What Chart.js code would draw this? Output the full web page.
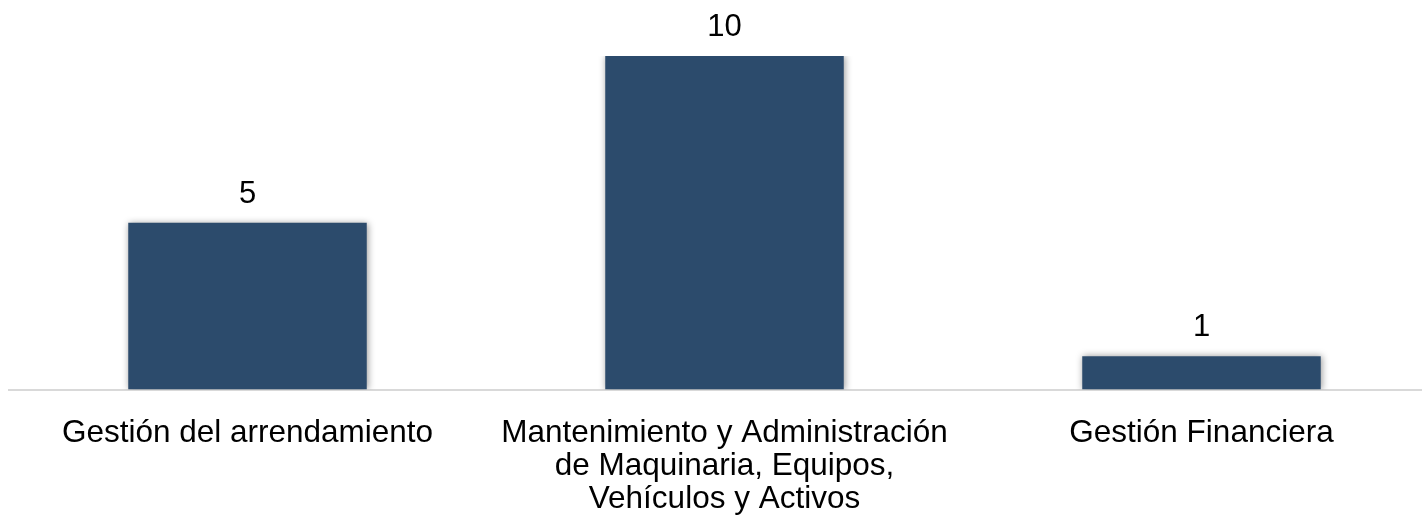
<!DOCTYPE html>
<html>
<head>
<meta charset="utf-8">
<script src="https://cdn.jsdelivr.net/npm/chart.js@4.4.1/dist/chart.umd.min.js"></script>
<style>
    html, body { margin: 0; padding: 0; background: #fff; overflow: hidden; }
    #wrap { width: 1440px; height: 519px; }
</style>
</head>
<body>
<div id="wrap"><canvas id="barCanvas"></canvas></div>
<script>
const categories = [
    'Gestión del arrendamiento',
    ['Mantenimiento y Administración', 'de Maquinaria, Equipos,', 'Vehículos y Activos'],
    'Gestión Financiera'
];
const values = [5, 10, 1];

const FONT = '"Liberation Sans", Arial, sans-serif';

// soft shadow round the bars, like the original
const barShadow = {
    id: 'barShadow',
    beforeDatasetDraw(chart) {
        const ctx = chart.ctx;
        ctx.save();
        ctx.shadowColor = 'rgba(0,0,0,0.4)';
        ctx.shadowBlur = 7;
        ctx.shadowOffsetX = 1;
        ctx.shadowOffsetY = 0;
    },
    afterDatasetDraw(chart) {
        chart.ctx.restore();
    }
};

const valueLabels = {
    id: 'valueLabels',
    afterDatasetsDraw(chart) {
        const ctx = chart.ctx;
        const meta = chart.getDatasetMeta(0);
        ctx.save();
        ctx.font = '31px ' + FONT;
        ctx.fillStyle = '#000';
        ctx.textAlign = 'center';
        ctx.textBaseline = 'alphabetic';
        meta.data.forEach((bar, i) => {
            ctx.fillText(String(values[i]), bar.x, bar.y - 20);
        });
        ctx.restore();
    }
};

const ctx = document.getElementById('barCanvas').getContext('2d');
const chart = new Chart(ctx, {
    type: 'bar',
    data: {
        labels: categories,
        datasets: [{
            data: values,
            backgroundColor: '#2c4b6c',
            borderWidth: 0,
            barPercentage: 0.5,
            categoryPercentage: 1
        }]
    },
    options: {
        responsive: true,
        maintainAspectRatio: false,
        animation: false,
        layout: { padding: { top: 56, left: 9, right: 0, bottom: 0 } },
        plugins: {
            legend: { display: false },
            tooltip: { enabled: false }
        },
        scales: {
            x: {
                grid: { display: false, drawTicks: false },
                border: { display: true, color: '#d9d9d9', width: 2 },
                ticks: {
                    color: '#000',
                    font: { family: FONT, size: 31.5, lineHeight: 1.05 },
                    padding: 27,
                    maxRotation: 0,
                    autoSkip: false
                },
                afterFit(scale) { scale.height = 129.5; }
            },
            y: {
                display: false,
                min: 0,
                max: 10
            }
        }
    },
    plugins: [barShadow, valueLabels]
});
</script>
</body>
</html>
